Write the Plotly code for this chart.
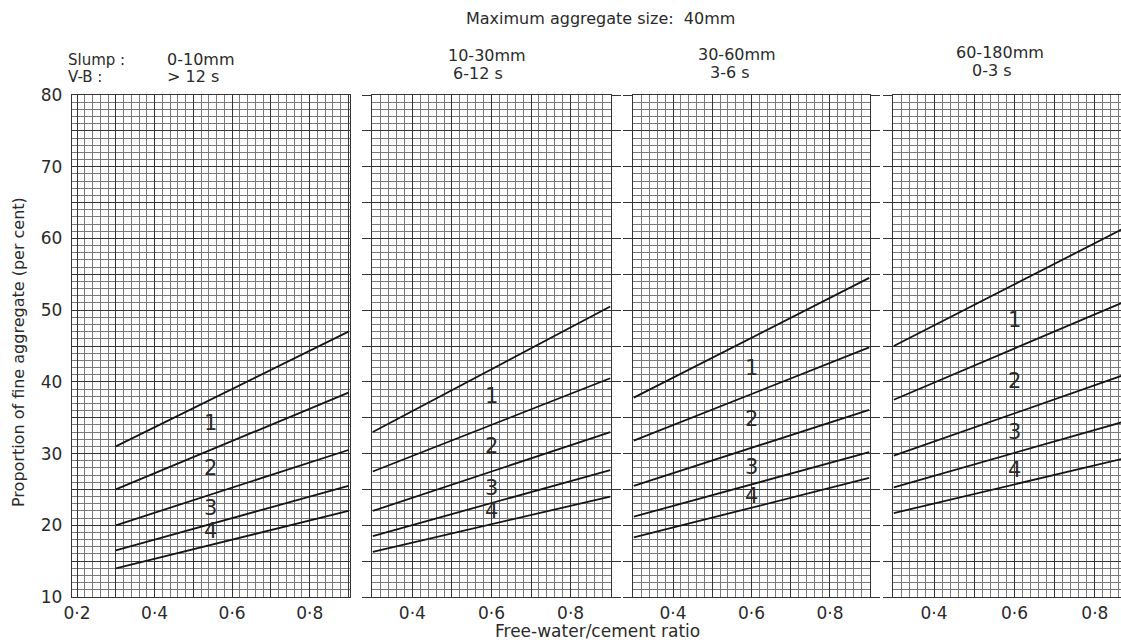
import plotly.graph_objects as go

W, H = 1121, 644

# ---------------- data ----------------
wc_ratio = [0.3, 0.9]  # free-water/cement ratio at line ends

panel1_lines = [[31.0, 47.0], [25.0, 38.5], [20.0, 30.5], [16.5, 25.5], [14.0, 22.0]]
panel2_lines = [[33.0, 50.5], [27.5, 40.5], [22.0, 33.0], [18.5, 27.7], [16.3, 24.0]]
panel3_lines = [[37.8, 54.5], [31.8, 44.8], [25.5, 36.1], [21.2, 30.2], [18.3, 26.6]]
panel4_lines = [[45.0, 62.2], [37.5, 51.8], [29.7, 41.5], [25.3, 34.9], [21.7, 29.7]]

zone_names = ["1", "2", "3", "4"]
zone_label_x = [0.545, 0.6, 0.6, 0.6]
zone_label_y = [
    [34.3, 28.0, 22.4, 19.2],
    [38.0, 31.0, 25.2, 22.0],
    [42.0, 34.8, 28.1, 24.1],
    [48.6, 40.1, 33.0, 27.7],
]

slump_labels = ["0-10mm", "10-30mm", "30-60mm", "60-180mm"]
vb_labels = ["> 12 s", "6-12 s", "3-6 s", "0-3 s"]

x_tick_vals = [0.2, 0.3, 0.4, 0.5, 0.6, 0.7, 0.8, 0.9]
x_tick_text = ["0·2", "", "0·4", "", "0·6", "", "0·8", ""]
y_tick_vals = [10, 15, 20, 25, 30, 35, 40, 45, 50, 55, 60, 65, 70, 75, 80]
y_tick_text = ["10", "", "20", "", "30", "", "40", "", "50", "", "60", "", "70", "", "80"]

# ---------------- layout geometry (pixels) ----------------
panel_px = [(72, 350), (372, 611), (633, 870), (893, 1121)]
x_ranges = [[0.187, 0.904], [0.298, 0.902], [0.298, 0.902], [0.298, 0.865]]
y_top_px, y_bot_px = 95, 597
y_dom = [1 - y_bot_px / H, 1 - y_top_px / H]

FONT = "DejaVu Sans"
TXT = "#2a2a2a"
LINE = "#151515"
MINOR = "#7a7a7a"
MAJOR = "#353535"

fig = go.Figure()
panels = [panel1_lines, panel2_lines, panel3_lines, panel4_lines]

for i, lines in enumerate(panels):
    xa = "x" if i == 0 else f"x{i+1}"
    ya = "y" if i == 0 else f"y{i+1}"
    for ln in lines:
        fig.add_trace(go.Scatter(x=wc_ratio, y=ln, mode="lines",
                                 line=dict(color=LINE, width=1.8),
                                 xaxis=xa, yaxis=ya, showlegend=False,
                                 hoverinfo="skip"))
    for name, yy in zip(zone_names, zone_label_y[i]):
        fig.add_annotation(x=zone_label_x[i], y=yy, xref=xa, yref=ya, text=name,
                           showarrow=False, font=dict(family=FONT, size=21, color=TXT))

layout = dict(
    width=W, height=H,
    margin=dict(l=0, r=0, t=0, b=0, autoexpand=False),
    paper_bgcolor="white", plot_bgcolor="white",
    showlegend=False,
)

for i in range(4):
    xk = "xaxis" if i == 0 else f"xaxis{i+1}"
    yk = "yaxis" if i == 0 else f"yaxis{i+1}"
    yid = "y" if i == 0 else f"y{i+1}"
    xid = "x" if i == 0 else f"x{i+1}"
    x0, x1 = panel_px[i]
    layout[xk] = dict(
        domain=[x0 / W, x1 / W], range=x_ranges[i], anchor=yid,
        tickmode="array", tickvals=x_tick_vals, ticktext=x_tick_text,
        ticks="", showline=True, mirror=True, linecolor=MAJOR, linewidth=1.3,
        showgrid=True, gridcolor=MAJOR, gridwidth=1.1,
        minor=dict(dtick=0.02, tick0=0, showgrid=True, gridcolor=MINOR, gridwidth=0.9, ticks=""),
        tickfont=dict(family=FONT, size=17, color=TXT), zeroline=False,
        automargin=False,
    )
    ydict = dict(
        domain=y_dom, range=[10, 80], anchor=xid,
        tickmode="array", tickvals=y_tick_vals, ticktext=y_tick_text,
        showline=True, linecolor=MAJOR, linewidth=1.3,
        showgrid=True, gridcolor=MAJOR, gridwidth=1.1,
        minor=dict(dtick=1, tick0=0, showgrid=True, gridcolor=MINOR, gridwidth=0.9, ticks=""),
        zeroline=False, tickcolor=MAJOR, tickwidth=1.3,
        tickfont=dict(family=FONT, size=17, color=TXT), automargin=False,
    )
    if i == 0:
        ydict.update(ticks="", mirror=True, showticklabels=True, ticklabelstandoff=5)
    elif i == 3:
        ydict.update(ticks="outside", ticklen=9, mirror=False, showticklabels=False)
    else:
        ydict.update(ticks="outside", ticklen=9, mirror="ticks", showticklabels=False)
    layout[yk] = ydict

# right-hand gap ticks for the first panel
layout["yaxis5"] = dict(
    overlaying="y", side="right", anchor="x", range=[10, 80],
    tickmode="array", tickvals=y_tick_vals, showticklabels=False,
    ticks="outside", ticklen=9, tickcolor=MAJOR, tickwidth=1.3,
    showgrid=False, zeroline=False, showline=False, automargin=False,
)

fig.update_layout(**layout)

def px(x, y):
    return x / W, 1 - y / H

HS = 15  # header font size
ann = []
# overall title
tx, ty = px(600, 18)
ann.append(dict(x=tx, y=ty, text="Maximum aggregate size:  40mm", xanchor="center", yanchor="middle",
                font=dict(size=16)))
# first panel row labels
for txt, (xx, yy) in [("Slump :", (66, 60)), ("V-B :", (66, 77))]:
    a, b = px(xx, yy)
    ann.append(dict(x=a, y=b, text=txt, xanchor="left", yanchor="middle", font=dict(size=HS)))
a, b = px(165, 60)
ann.append(dict(x=a, y=b, text=slump_labels[0], xanchor="left", yanchor="middle", font=dict(size=HS + 1)))
a, b = px(165, 77)
ann.append(dict(x=a, y=b, text=vb_labels[0], xanchor="left", yanchor="middle", font=dict(size=HS + 1)))
header_pos = [None, (487, 56, 478, 74), (737, 55, 730, 73), (1000, 52, 992, 70)]
for i in range(1, 4):
    sx, sy, vx, vy = header_pos[i]
    a, b = px(sx, sy)
    ann.append(dict(x=a, y=b, text=slump_labels[i], xanchor="center", yanchor="middle", font=dict(size=HS + 1)))
    a, b = px(vx, vy)
    ann.append(dict(x=a, y=b, text=vb_labels[i], xanchor="center", yanchor="middle", font=dict(size=HS + 1)))
# axis titles
a, b = px(597, 631)
ann.append(dict(x=a, y=b, text="Free-water/cement ratio", xanchor="center", yanchor="middle",
                font=dict(size=17)))
a, b = px(18, 352)
ann.append(dict(x=a, y=b, text="Proportion of fine aggregate (per cent)", textangle=-90,
                xanchor="center", yanchor="middle", font=dict(size=16)))

for d in ann:
    d.update(xref="paper", yref="paper", showarrow=False)
    d["font"] = dict(family=FONT, color=TXT, **d["font"])
    fig.add_annotation(**d)

fig.write_html("out.html")
